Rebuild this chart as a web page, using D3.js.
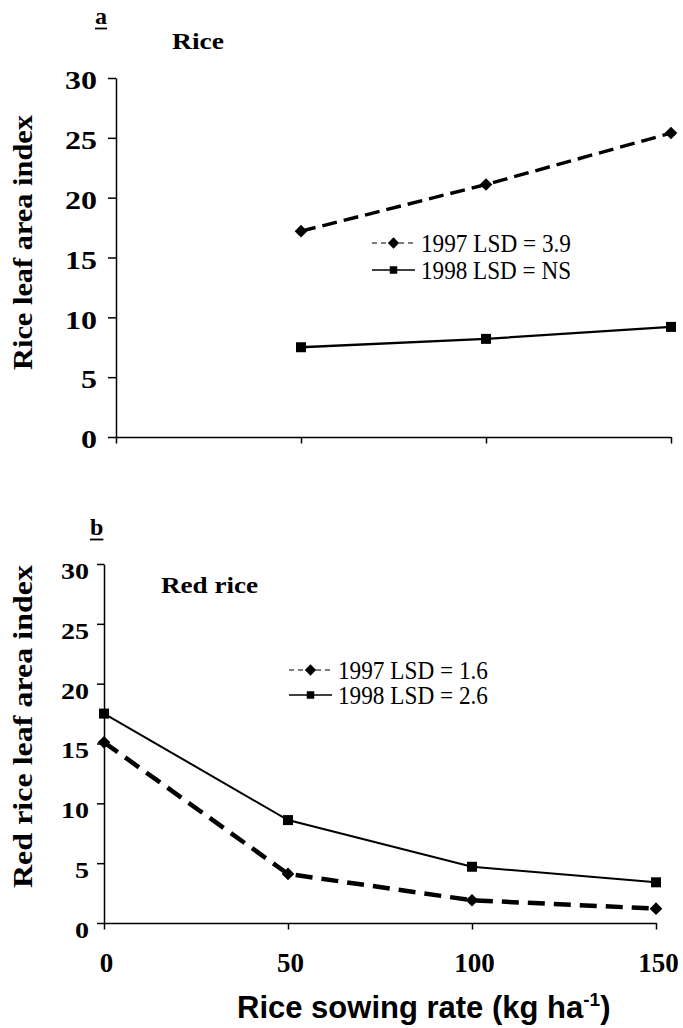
<!DOCTYPE html>
<html>
<head>
<meta charset="utf-8">
<script src="https://cdn.jsdelivr.net/npm/d3@7"></script>
<style>
  html, body { margin: 0; padding: 0; background: #fff; }
  svg { display: block; }
</style>
</head>
<body>
<svg id="chart" width="683" height="1028"></svg>
<script>
// ---------- data ----------
const xTicks = [0, 50, 100, 150];
const yTicks = [0, 5, 10, 15, 20, 25, 30];

// panel a: Rice
const riceRates = [50, 100, 150];
const rice1997 = [17.2, 21.1, 25.4];
const rice1998 = [7.5, 8.2, 9.2];
const riceLegend = ["1997 LSD = 3.9", "1998 LSD = NS"];

// panel b: Red rice
const redRates = [0, 50, 100, 150];
const red1997 = [15.1, 4.1, 1.9, 1.2];
const red1998 = [17.5, 8.6, 4.7, 3.4];
const redLegend = ["1997 LSD = 1.6", "1998 LSD = 2.6"];

const seriesYears = ["1997", "1998"];

// ---------- setup ----------
const SERIF = "'Liberation Serif','Times New Roman',Times,serif";
const SANS = "'Liberation Sans',Arial,Helvetica,sans-serif";
const svg = d3.select("#chart");
svg.append("rect").attr("width", 683).attr("height", 1028).attr("fill", "#fff");

function diamondPath(d) { return d3.symbol(d3.symbolSquare, d)(); }

function drawPanel(cfg) {
  const g = svg.append("g");
  const x = d3.scaleLinear().domain([0, 150]).range(cfg.xRange);
  const y = d3.scaleLinear().domain([0, 30]).range(cfg.yRange);

  // y axis
  const ya = g.append("g")
    .attr("transform", `translate(${cfg.xRange[0]},0)`)
    .call(d3.axisLeft(y).tickValues(yTicks).tickSize(cfg.yTickSize).tickSizeOuter(0).tickPadding(cfg.yPad));
  ya.selectAll("path.domain").attr("stroke", "#000").attr("stroke-width", 1.5);
  ya.selectAll(".tick line").attr("stroke", "#000").attr("stroke-width", 1.5);
  ya.selectAll("text")
    .attr("y", cfg.yLabelShift)
    .attr("font-family", SERIF).attr("font-weight", "bold")
    .attr("font-size", cfg.tickFont).attr("fill", "#000")
    .attr("textLength", function () { return this.textContent.length * cfg.tickCharW; })
    .attr("lengthAdjust", "spacingAndGlyphs");

  // x axis
  const xa = g.append("g")
    .attr("transform", `translate(0,${cfg.yRange[0]})`)
    .call(d3.axisBottom(x).tickValues(xTicks).tickSize(6.5).tickSizeOuter(0)
      .tickFormat(cfg.xLabels ? d3.format("d") : () => ""));
  xa.selectAll("path.domain").attr("stroke", "#000").attr("stroke-width", 1.5);
  xa.selectAll(".tick line").attr("stroke", "#000").attr("stroke-width", 1.5);
  xa.selectAll("text")
    .attr("dy", null).attr("y", cfg.xLabelY).attr("dx", 2)
    .attr("font-family", SERIF).attr("font-weight", "bold")
    .attr("font-size", cfg.xTickFont).attr("fill", "#000");

  // lines
  const line = d3.line().x(d => x(d[0])).y(d => y(d[1]));
  const d97 = cfg.rates.map((r, i) => [r, cfg.s1997[i]]);
  const d98 = cfg.rates.map((r, i) => [r, cfg.s1998[i]]);

  g.append("path").datum(d98).attr("d", line)
    .attr("fill", "none").attr("stroke", "#000").attr("stroke-width", cfg.solidW);
  g.append("path").datum(d97).attr("d", line)
    .attr("fill", "none").attr("stroke", "#000").attr("stroke-width", cfg.dashW)
    .attr("stroke-dasharray", cfg.dash);

  g.selectAll(".sq").data(d98).join("path")
    .attr("d", d3.symbol(d3.symbolSquare, 100)())
    .attr("transform", d => `translate(${x(d[0])},${y(d[1])})`)
    .attr("fill", "#000");
  g.selectAll(".dm").data(d97).join("path")
    .attr("d", diamondPath(80))
    .attr("transform", d => `translate(${x(d[0])},${y(d[1])}) rotate(45)`)
    .attr("fill", "#000");

  // legend
  const lg = g.append("g");
  seriesYears.forEach((yr, i) => {
    const cy = cfg.legY[i];
    const ln = lg.append("line")
      .attr("x1", cfg.legX[0]).attr("x2", cfg.legX[1])
      .attr("y1", cy).attr("y2", cy)
      .attr("stroke", "#000").attr("stroke-width", i === 0 ? 1.1 : 1.5);
    if (i === 0) ln.attr("stroke-dasharray", "5,4");
    const mx = (cfg.legX[0] + cfg.legX[1]) / 2;
    if (i === 0) {
      lg.append("path").attr("d", diamondPath(64))
        .attr("transform", `translate(${mx},${cy}) rotate(45)`).attr("fill", "#000");
    } else {
      lg.append("path").attr("d", d3.symbol(d3.symbolSquare, 56)())
        .attr("transform", `translate(${mx},${cy})`).attr("fill", "#000");
    }
    lg.append("text")
      .attr("x", cfg.legX[1] + 6).attr("y", cy + 8.5)
      .attr("font-family", SERIF).attr("font-size", 24.5).attr("fill", "#000")
      .attr("textLength", 150).attr("lengthAdjust", "spacingAndGlyphs")
      .text(cfg.legend[i]);
  });

  // panel letter (underlined)
  const lt = g.append("text")
    .attr("x", cfg.letterPos[0]).attr("y", cfg.letterPos[1])
    .attr("font-family", SERIF).attr("font-weight", "bold").attr("font-size", 24)
    .text(cfg.letter);
  const bb = lt.node().getBBox();
  g.append("line")
    .attr("x1", bb.x).attr("x2", bb.x + bb.width)
    .attr("y1", cfg.letterPos[1] + 4.5).attr("y2", cfg.letterPos[1] + 4.5)
    .attr("stroke", "#000").attr("stroke-width", 1.8);

  // panel title
  g.append("text")
    .attr("x", cfg.titlePos[0]).attr("y", cfg.titlePos[1])
    .attr("font-family", SERIF).attr("font-weight", "bold").attr("font-size", 24)
    .attr("textLength", cfg.titleLen).attr("lengthAdjust", "spacingAndGlyphs")
    .text(cfg.title);

  // y title
  g.append("text")
    .attr("transform", `translate(31.5,${cfg.yTitleCenter}) rotate(-90)`)
    .attr("text-anchor", "middle")
    .attr("font-family", SERIF).attr("font-weight", "bold").attr("font-size", 27)
    .attr("textLength", cfg.yTitleLen).attr("lengthAdjust", "spacingAndGlyphs")
    .text(cfg.yTitle);
}

drawPanel({
  xRange: [116, 671], yRange: [437, 78],
  yTickSize: 8, yPad: 11, yLabelShift: 2.5, tickFont: 26, tickCharW: 16,
  xLabels: false, xLabelY: 0, xTickFont: 27,
  rates: riceRates, s1997: rice1997, s1998: rice1998,
  solidW: 2.3, dashW: 3.4, dash: "15,7",
  legX: [372, 415], legY: [243, 270], legend: riceLegend,
  letter: "a", letterPos: [95, 24],
  title: "Rice", titlePos: [172, 49], titleLen: 52,
  yTitle: "Rice leaf area index", yTitleCenter: 242.5, yTitleLen: 255
});

drawPanel({
  xRange: [104, 656], yRange: [923, 564],
  yTickSize: 7, yPad: 8, yLabelShift: 7, tickFont: 23, tickCharW: 14,
  xLabels: true, xLabelY: 49, xTickFont: 27,
  rates: redRates, s1997: red1997, s1998: red1998,
  solidW: 2, dashW: 4.5, dash: "17,9",
  legX: [289, 332], legY: [670, 695], legend: redLegend,
  letter: "b", letterPos: [90, 535],
  title: "Red rice", titlePos: [161, 593], titleLen: 97,
  yTitle: "Red rice leaf area index", yTitleCenter: 726.5, yTitleLen: 323
});

// x axis title
const xt = svg.append("text")
  .attr("x", 237).attr("y", 1017.5)
  .attr("font-family", SANS).attr("font-weight", "bold").attr("font-size", 31)
  .attr("fill", "#000");
xt.append("tspan").text("Rice sowing rate (kg ha");
xt.append("tspan").attr("font-size", 19).attr("dy", -12).text("-1");
xt.append("tspan").attr("dy", 12).text(")");
</script>
</body>
</html>
